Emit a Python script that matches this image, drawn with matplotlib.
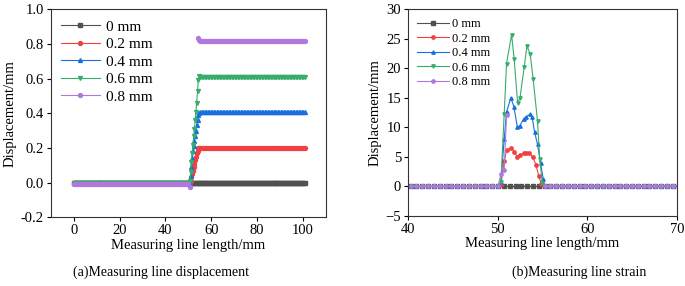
import matplotlib
matplotlib.use("Agg")
import matplotlib.pyplot as plt
import numpy as np

plt.rcParams['font.family'] = ['Liberation Serif', 'DejaVu Serif']

labels = ['0 mm', '0.2 mm', '0.4 mm', '0.6 mm', '0.8 mm']
colors = ['#515151', '#F14040', '#1A6FDF', '#37AD6B', '#B177DE']
markers = ['s', 'o', '^', 'v', 'o']

# sensor sample positions (0.65 mm spacing) outside the crack zone
x_before = np.arange(0, 50.5, 0.65)
x_after = np.arange(55.25, 101.2, 0.65)

# --- displacement: levels before / after, plus the readings across the crack
disp_before = [0.0, 0.0, 0.0, 0.0, -0.005]
disp_after = [0.0, 0.202, 0.405, 0.607, 0.82]
disp_mid_x = [
    [50.7, 51.3, 52.0, 52.6, 53.3, 54.0, 54.6],
    [50.7, 51.0, 51.3, 51.6, 52.0, 52.3, 52.6, 53.0, 53.3, 53.6, 54.0, 54.3, 54.6],
    [50.7, 51.0, 51.3, 51.6, 52.0, 52.3, 52.6, 53.0, 53.3, 53.6, 54.0, 54.3, 54.6],
    [50.7, 51.0, 51.3, 51.6, 52.0, 52.3, 52.6, 53.0, 53.3, 53.6, 54.0, 54.3, 54.6],
    [50.6, np.nan, 54.2, 54.5],
]
disp_mid_y = [
    [0.0, 0.0, 0.0, 0.0, 0.0, 0.0, 0.0],
    [0.0, 0.01, 0.03, 0.05, 0.07, 0.09, 0.11, 0.13, 0.15, 0.17, 0.185, 0.198, 0.201],
    [0.0, 0.04, 0.09, 0.14, 0.18, 0.21, 0.24, 0.27, 0.30, 0.33, 0.36, 0.39, 0.403],
    [0.01, 0.06, 0.12, 0.17, 0.22, 0.27, 0.31, 0.36, 0.41, 0.46, 0.53, 0.59, 0.615],
    [-0.025, np.nan, 0.835, 0.822],
]

# --- strain: levels before / after, plus the readings across the crack
strain_before = [0.0, 0.0, 0.0, 0.0, 0.0]
strain_after = [0.0, 0.1, 0.1, 0.1, 0.1]
strain_mid_x = [
    [50.7, 51.35, 52.0, 52.65, 53.3, 53.95, 54.6],
    [50.37, 50.74, 51.0, 51.5, 51.85, 52.2, 52.5, 52.9, 53.2, 53.55, 53.95, 54.3, 54.6, 54.9, 55.2],
    [50.37, 50.74, 51.0, 51.48, 51.82, 52.2, 52.45, 52.9, 53.2, 53.6, 53.85, 54.13, 54.46, 54.8, 55.1],
    [50.37, 50.74, 51.0, 51.56, 51.85, 52.23, 52.5, 52.97, 53.27, 53.64, 53.97, 54.46, 54.7, 55.0],
    [50.37, 50.74, 51.0, np.nan],
]
strain_mid_y = [
    [0.0, 0.0, 0.0, 0.0, 0.0, 0.0, 0.0],
    [0.3, 4.3, 6.1, 6.5, 5.9, 5.0, 5.3, 5.6, 5.7, 5.7, 4.9, 3.6, 1.7, 0.4, 0.1],
    [0.8, 8.0, 12.6, 15.0, 13.5, 10.1, 10.2, 11.4, 11.8, 12.2, 11.8, 9.2, 7.1, 3.9, 1.2],
    [0.8, 12.3, 20.8, 25.7, 21.6, 14.2, 15.0, 20.2, 23.8, 22.4, 18.2, 11.0, 4.6, 0.5],
    [2.1, 2.8, 12.1, np.nan],
]


def series(before, mid_x, mid_y, after):
    x = np.concatenate([x_before, mid_x, x_after])
    y = np.concatenate([np.full(len(x_before), before), mid_y,
                        np.full(len(x_after), after)])
    return x, y


fig = plt.figure(figsize=(6.85, 2.86), dpi=100)
ax1 = fig.add_axes([0.074, 0.240, 0.402, 0.7275])
ax2 = fig.add_axes([0.5956, 0.245, 0.3924, 0.7225])

for i in range(5):
    x, y = series(disp_before[i], disp_mid_x[i], disp_mid_y[i], disp_after[i])
    ax1.plot(x, y, color=colors[i], marker=markers[i], markersize=2.8,
             linewidth=0.8, label=labels[i])
    x, y = series(strain_before[i], strain_mid_x[i], strain_mid_y[i], strain_after[i])
    ax2.plot(x, y, color=colors[i], marker=markers[i], markersize=2.4,
             linewidth=0.8, label=labels[i])

ax1.set_xlim(-10, 110)
ax1.set_ylim(-0.2, 1.0)
ax1.set_xticks([0, 20, 40, 60, 80, 100])
ax1.set_yticks([-0.2, 0.0, 0.2, 0.4, 0.6, 0.8, 1.0])
ax1.set_yticklabels(['-0.2', '0.0', '0.2', '0.4', '0.6', '0.8', '1.0'])

ax2.set_xlim(40, 70)
ax2.set_ylim(-5, 30)
ax2.set_xticks([40, 50, 60, 70])
ax2.set_yticks([-5, 0, 5, 10, 15, 20, 25, 30])

for ax in (ax1, ax2):
    ax.tick_params(direction='out', length=3, width=0.8, labelsize=10.5, pad=2)
    for s in ax.spines.values():
        s.set_linewidth(0.8)
        s.set_color('#333333')
    ax.set_xlabel('Measuring line length/mm', fontsize=10.5, labelpad=1)
    ax.set_ylabel('Displacement/mm', fontsize=10.5, labelpad=3)

ax1.legend(loc='upper left', frameon=False, fontsize=11, handlelength=2.5,
           labelspacing=0.25, borderaxespad=0.3, handletextpad=0.4)
ax2.legend(loc='upper left', frameon=False, fontsize=9, handlelength=2.6,
           labelspacing=0.2, borderaxespad=0.3, handletextpad=0.2)

fig.text(0.235, 0.049, '(a)Measuring line displacement', ha='center', va='center', fontsize=10)
fig.text(0.846, 0.049, '(b)Measuring line strain', ha='center', va='center', fontsize=10)

fig.savefig('out.png', dpi=100)
